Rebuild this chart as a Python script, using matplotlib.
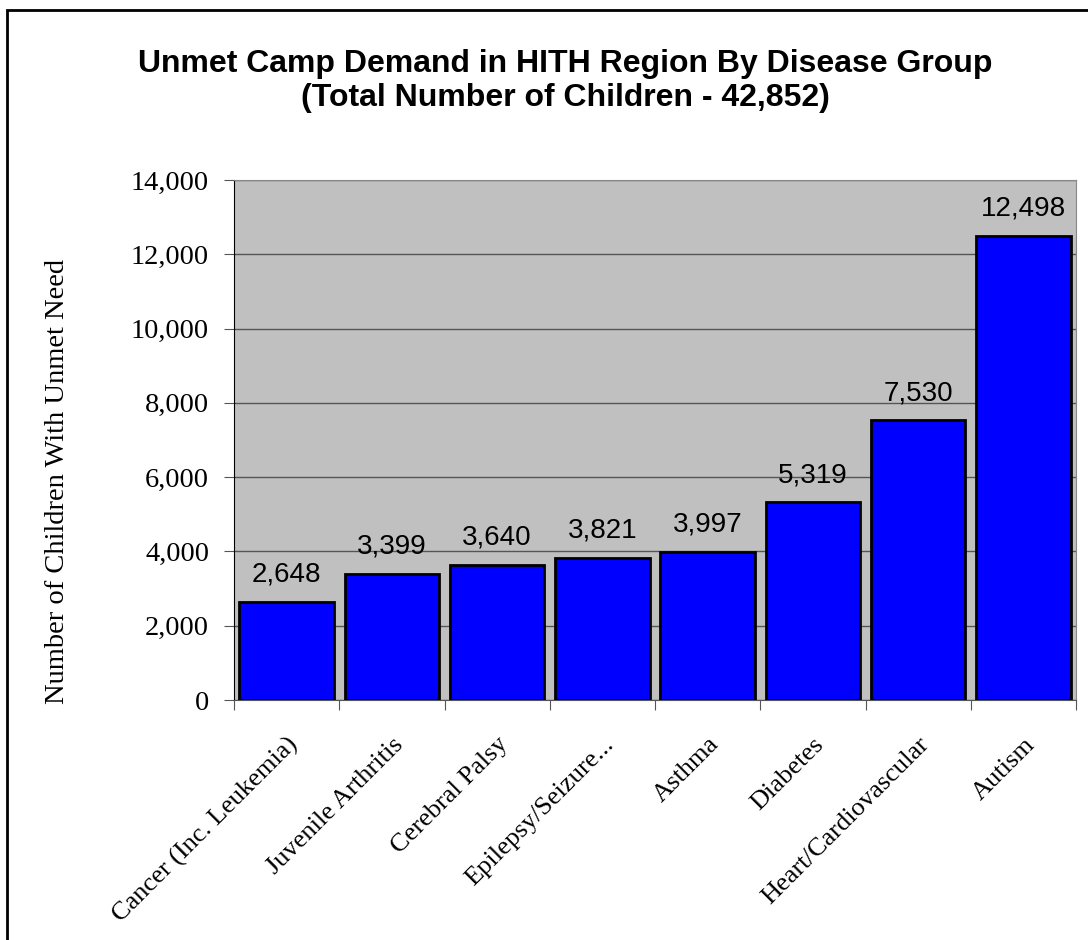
import numpy as np
import matplotlib.pyplot as plt
from matplotlib.patches import Rectangle

# 疾病组别与人数
categories = ['Cancer (Inc. Leukemia)', 'Juvenile Arthritis', 'Cerebral Palsy',
              'Epilepsy/Seizure...', 'Asthma', 'Diabetes', 'Heart/Cardiovascular', 'Autism']
children = [2648, 3399, 3640, 3821, 3997, 5319, 7530, 12498]
yticks = [0, 2000, 4000, 6000, 8000, 10000, 12000, 14000]

fig = plt.figure(figsize=(10.88, 9.40), dpi=100)
ax = fig.add_axes([234 / 1088, 1 - 700 / 940, (1076 - 234) / 1088, (700 - 180) / 940])

# 外边框
fig.patches.append(Rectangle((7 / 1088, -0.1), 1.2, 1 - 10 / 940 + 0.1,
                             transform=fig.transFigure, fill=False,
                             edgecolor='black', linewidth=2, zorder=10))

x = np.arange(len(categories))
ax.set_facecolor('#c0c0c0')
ax.bar(x, children, width=0.9, color='#0000ff', edgecolor='black', linewidth=2, zorder=3)
for xi, v in zip(x, children):
    ax.text(xi, v + 380, f'{v:,}', ha='center', va='bottom',
            fontsize=20, family='Liberation Sans', zorder=4)

ax.set_xlim(-0.5, len(categories) - 0.5)
ax.set_ylim(0, 14000)
ax.set_yticks(yticks)
ax.set_yticklabels([f'{t:,}' for t in yticks], family='Liberation Serif', fontsize=20.5)
ax.yaxis.grid(True, color='#555555', linewidth=1, zorder=0)
ax.set_axisbelow(True)

# x轴刻度在类别之间
ax.set_xticks(np.arange(len(categories) + 1) - 0.5)
ax.set_xticklabels([])
ax.set_xticks(x, minor=True)
ax.set_xticklabels(categories, minor=True, rotation=45, ha='right', rotation_mode='anchor',
                   family='Liberation Serif', fontsize=19)
ax.tick_params(axis='x', which='minor', length=0, pad=24)
ax.tick_params(axis='x', which='major', length=7, color='#555555', direction='out')
ax.tick_params(axis='y', length=7, color='#555555', direction='out', pad=11)

for s in ['top', 'right']:
    ax.spines[s].set_color('#888888')
ax.spines['left'].set_color('black')
ax.spines['bottom'].set_color('#555555')

ax.set_ylabel('Number of Children With Unmet Need', family='Liberation Serif', fontsize=20.5)
ax.yaxis.set_label_coords((70 - 234) / 842, 0.421)

fig.text(565 / 1088, 1 - 81 / 940,
         'Unmet Camp Demand in HITH Region By Disease Group\n(Total Number of Children - 42,852)',
         ha='center', va='center', fontsize=23, fontweight='bold',
         family='Liberation Sans', linespacing=1.2)

fig.savefig('out.png', dpi=100)
